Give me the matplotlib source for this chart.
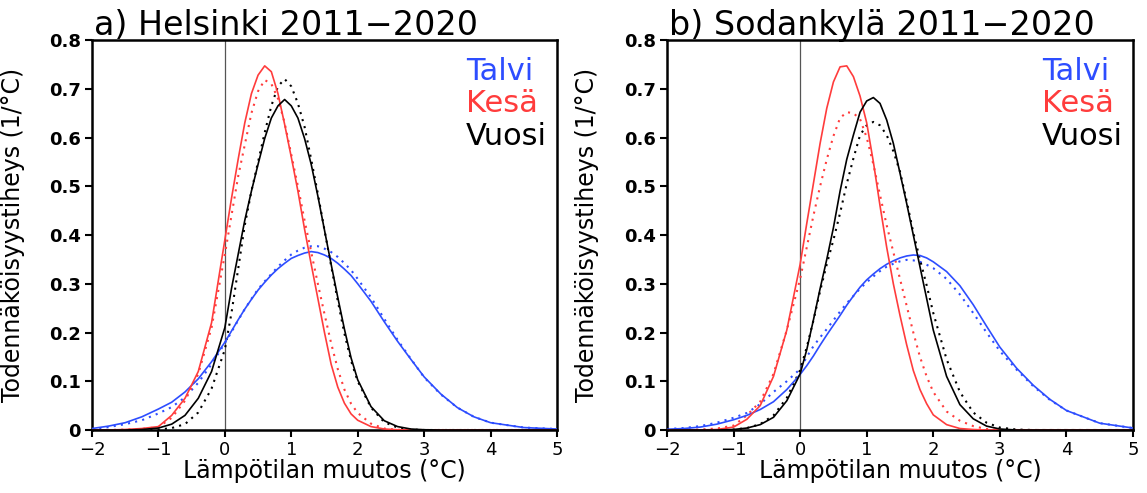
import matplotlib
matplotlib.use('Agg')
import matplotlib.pyplot as plt

plt.rcParams['font.family'] = ['DejaVu Sans']
plt.rcParams['axes.unicode_minus'] = True

# x-akselin pisteet (lämpötilan muutos, °C)
x_grid = [-2.0, -1.75, -1.5, -1.25, -1.0, -0.8, -0.6, -0.4, -0.2,
          0.0, 0.1, 0.2, 0.3, 0.4, 0.5, 0.6, 0.7, 0.8, 0.9, 1.0,
          1.1, 1.2, 1.3, 1.4, 1.5, 1.6, 1.7, 1.8, 1.9, 2.0,
          2.2, 2.4, 2.6, 2.8, 3.0, 3.25, 3.5, 3.75, 4.0, 4.5, 5.0]

# a) Helsinki
hel_talvi = [0.003, 0.008, 0.015, 0.027, 0.043, 0.057, 0.078, 0.105, 0.14,
             0.18, 0.203, 0.226, 0.248, 0.268, 0.287, 0.303, 0.318, 0.331, 0.342, 0.352,
             0.358, 0.363, 0.366, 0.364, 0.359, 0.352, 0.342, 0.33, 0.317, 0.30,
             0.264, 0.222, 0.182, 0.145, 0.109, 0.074, 0.046, 0.027, 0.015, 0.005, 0.002]
hel_talvi_dot = [0.002, 0.006, 0.012, 0.02, 0.034, 0.047, 0.067, 0.097, 0.135,
                 0.178, 0.201, 0.225, 0.248, 0.269, 0.289, 0.305, 0.32, 0.335, 0.348, 0.36,
                 0.368, 0.374, 0.377, 0.377, 0.372, 0.365, 0.355, 0.342, 0.328, 0.31,
                 0.272, 0.228, 0.185, 0.146, 0.108, 0.073, 0.046, 0.027, 0.015, 0.005, 0.002]
hel_kesa = [0.0, 0.0, 0.001, 0.003, 0.007, 0.03, 0.065, 0.12, 0.22,
            0.39, 0.475, 0.555, 0.63, 0.69, 0.728, 0.747, 0.735, 0.69, 0.627, 0.56,
            0.49, 0.412, 0.34, 0.27, 0.2, 0.135, 0.088, 0.055, 0.033, 0.02,
            0.007, 0.002, 0.0005, 0.0, 0.0, 0.0, 0.0, 0.0, 0.0, 0.0, 0.0]
hel_kesa_dot = [0.0, 0.0, 0.0005, 0.002, 0.006, 0.025, 0.06, 0.115, 0.21,
                0.36, 0.44, 0.52, 0.585, 0.65, 0.695, 0.718, 0.71, 0.68, 0.63, 0.565,
                0.50, 0.43, 0.365, 0.30, 0.238, 0.178, 0.125, 0.083, 0.054, 0.035,
                0.013, 0.003, 0.0005, 0.0, 0.0, 0.0, 0.0, 0.0, 0.0, 0.0, 0.0]
hel_vuosi = [0.0, 0.0, 0.0, 0.001, 0.004, 0.012, 0.03, 0.065, 0.12,
             0.21, 0.29, 0.36, 0.43, 0.49, 0.545, 0.598, 0.64, 0.665, 0.678, 0.665,
             0.64, 0.598, 0.545, 0.48, 0.41, 0.34, 0.272, 0.207, 0.148, 0.103,
             0.048, 0.019, 0.007, 0.002, 0.0005, 0.0, 0.0, 0.0, 0.0, 0.0, 0.0]
hel_vuosi_dot = [0.0, 0.0, 0.0, 0.0, 0.001, 0.004, 0.012, 0.036, 0.085,
                 0.165, 0.24, 0.33, 0.42, 0.49, 0.55, 0.61, 0.665, 0.705, 0.72, 0.705,
                 0.67, 0.622, 0.555, 0.485, 0.41, 0.337, 0.265, 0.198, 0.142, 0.10,
                 0.046, 0.016, 0.005, 0.001, 0.0, 0.0, 0.0, 0.0, 0.0, 0.0, 0.0]

# b) Sodankylä
sod_talvi = [0.0015, 0.003, 0.006, 0.012, 0.021, 0.03, 0.042, 0.058, 0.083,
             0.114, 0.132, 0.152, 0.174, 0.195, 0.215, 0.235, 0.256, 0.275, 0.293, 0.308,
             0.32, 0.331, 0.34, 0.347, 0.353, 0.357, 0.359, 0.358, 0.353, 0.345,
             0.325, 0.296, 0.257, 0.213, 0.17, 0.127, 0.092, 0.063, 0.040, 0.014, 0.004]
sod_talvi_dot = [0.002, 0.004, 0.008, 0.015, 0.025, 0.035, 0.053, 0.078, 0.10,
                 0.125, 0.15, 0.172, 0.19, 0.207, 0.225, 0.243, 0.26, 0.275, 0.29, 0.303,
                 0.315, 0.326, 0.335, 0.341, 0.346, 0.349, 0.348, 0.345, 0.339, 0.332,
                 0.31, 0.278, 0.24, 0.20, 0.162, 0.124, 0.09, 0.062, 0.040, 0.014, 0.004]
sod_kesa = [0.0, 0.0, 0.0, 0.001, 0.006, 0.022, 0.05, 0.11, 0.205,
            0.34, 0.424, 0.506, 0.588, 0.66, 0.714, 0.745, 0.747, 0.725, 0.685, 0.63,
            0.55, 0.46, 0.375, 0.30, 0.235, 0.175, 0.122, 0.083, 0.054, 0.031,
            0.011, 0.003, 0.001, 0.0, 0.0, 0.0, 0.0, 0.0, 0.0, 0.0, 0.0]
sod_kesa_dot = [0.0, 0.0, 0.001, 0.003, 0.009, 0.03, 0.058, 0.115, 0.205,
                0.31, 0.375, 0.44, 0.5, 0.555, 0.603, 0.64, 0.652, 0.65, 0.638, 0.60,
                0.545, 0.482, 0.42, 0.365, 0.31, 0.255, 0.20, 0.15, 0.11, 0.078,
                0.038, 0.019, 0.008, 0.002, 0.0, 0.0, 0.0, 0.0, 0.0, 0.0, 0.0]
sod_vuosi = [0.0, 0.0, 0.0, 0.0, 0.001, 0.004, 0.011, 0.026, 0.06,
             0.115, 0.165, 0.226, 0.29, 0.35, 0.415, 0.49, 0.555, 0.605, 0.652, 0.675,
             0.682, 0.67, 0.636, 0.588, 0.527, 0.465, 0.40, 0.335, 0.27, 0.205,
             0.11, 0.052, 0.023, 0.008, 0.002, 0.0, 0.0, 0.0, 0.0, 0.0, 0.0]
sod_vuosi_dot = [0.0, 0.0, 0.0, 0.0, 0.001, 0.004, 0.012, 0.03, 0.066,
                 0.123, 0.17, 0.225, 0.285, 0.34, 0.39, 0.445, 0.505, 0.557, 0.605, 0.625,
                 0.632, 0.625, 0.605, 0.572, 0.53, 0.47, 0.405, 0.35, 0.297, 0.24,
                 0.145, 0.078, 0.036, 0.015, 0.005, 0.001, 0.0, 0.0, 0.0, 0.0, 0.0]

x_ticks = [-2, -1, 0, 1, 2, 3, 4, 5]
x_ticklabels = ['\u22122', '\u22121', '0', '1', '2', '3', '4', '5']
y_ticks = [0.0, 0.1, 0.2, 0.3, 0.4, 0.5, 0.6, 0.7, 0.8]
y_ticklabels = ['0', '0.1', '0.2', '0.3', '0.4', '0.5', '0.6', '0.7', '0.8']

season_names = ['Talvi', 'Kesä', 'Vuosi']
season_colors = ['#2d4dff', '#ff3c3c', 'black']

panels = [
    ('a) Helsinki 2011\u22122020', [hel_talvi, hel_kesa, hel_vuosi],
     [hel_talvi_dot, hel_kesa_dot, hel_vuosi_dot]),
    ('b) Sodankylä 2011\u22122020', [sod_talvi, sod_kesa, sod_vuosi],
     [sod_talvi_dot, sod_kesa_dot, sod_vuosi_dot]),
]


def draw_panel(ax, title, solid, dotted):
    # nollaviiva
    ax.axvline(0, color='#555555', lw=0.9, zorder=1)
    for ys, yd, c in zip(solid, dotted, season_colors):
        ax.plot(x_grid, yd, color=c, lw=1.5, ls=(0, (1, 2.5)), zorder=2)
        ax.plot(x_grid, ys, color=c, lw=1.2, zorder=3)

    ax.set_xlim(-2, 5)
    ax.set_ylim(0, 0.8)
    ax.set_xticks(x_ticks)
    ax.set_xticklabels(x_ticklabels, fontsize=13)
    ax.set_yticks(y_ticks)
    ax.set_yticklabels(y_ticklabels, fontsize=13, fontweight='bold')
    ax.tick_params(direction='out', length=5, width=1.5, pad=3)
    for sp in ax.spines.values():
        sp.set_linewidth(1.8)

    ax.set_xlabel('Lämpötilan muutos (°C)', fontsize=17)
    ax.set_ylabel('Todennäköisyystiheys (1/°C)', fontsize=17)
    ax.xaxis.set_label_coords(0.5, -0.075)
    ax.yaxis.set_label_coords(-0.145, 0.5)

    ax.text(0.005, 1.012, title, transform=ax.transAxes, fontsize=24,
            ha='left', va='baseline')

    # selitteet
    for name, c, yy in zip(season_names, season_colors, [0.897, 0.815, 0.731]):
        ax.text(0.804, yy, name, color=c, transform=ax.transAxes,
                fontsize=22, ha='left', va='baseline')


fig = plt.figure(figsize=(11.47, 4.93), dpi=100)
ax1 = fig.add_axes([0.0802, 0.1278, 0.4054, 0.791])
ax2 = fig.add_axes([0.5815, 0.1278, 0.4063, 0.791])

for ax, (title, solid, dotted) in zip([ax1, ax2], panels):
    draw_panel(ax, title, solid, dotted)

fig.savefig('out.png', dpi=100)
